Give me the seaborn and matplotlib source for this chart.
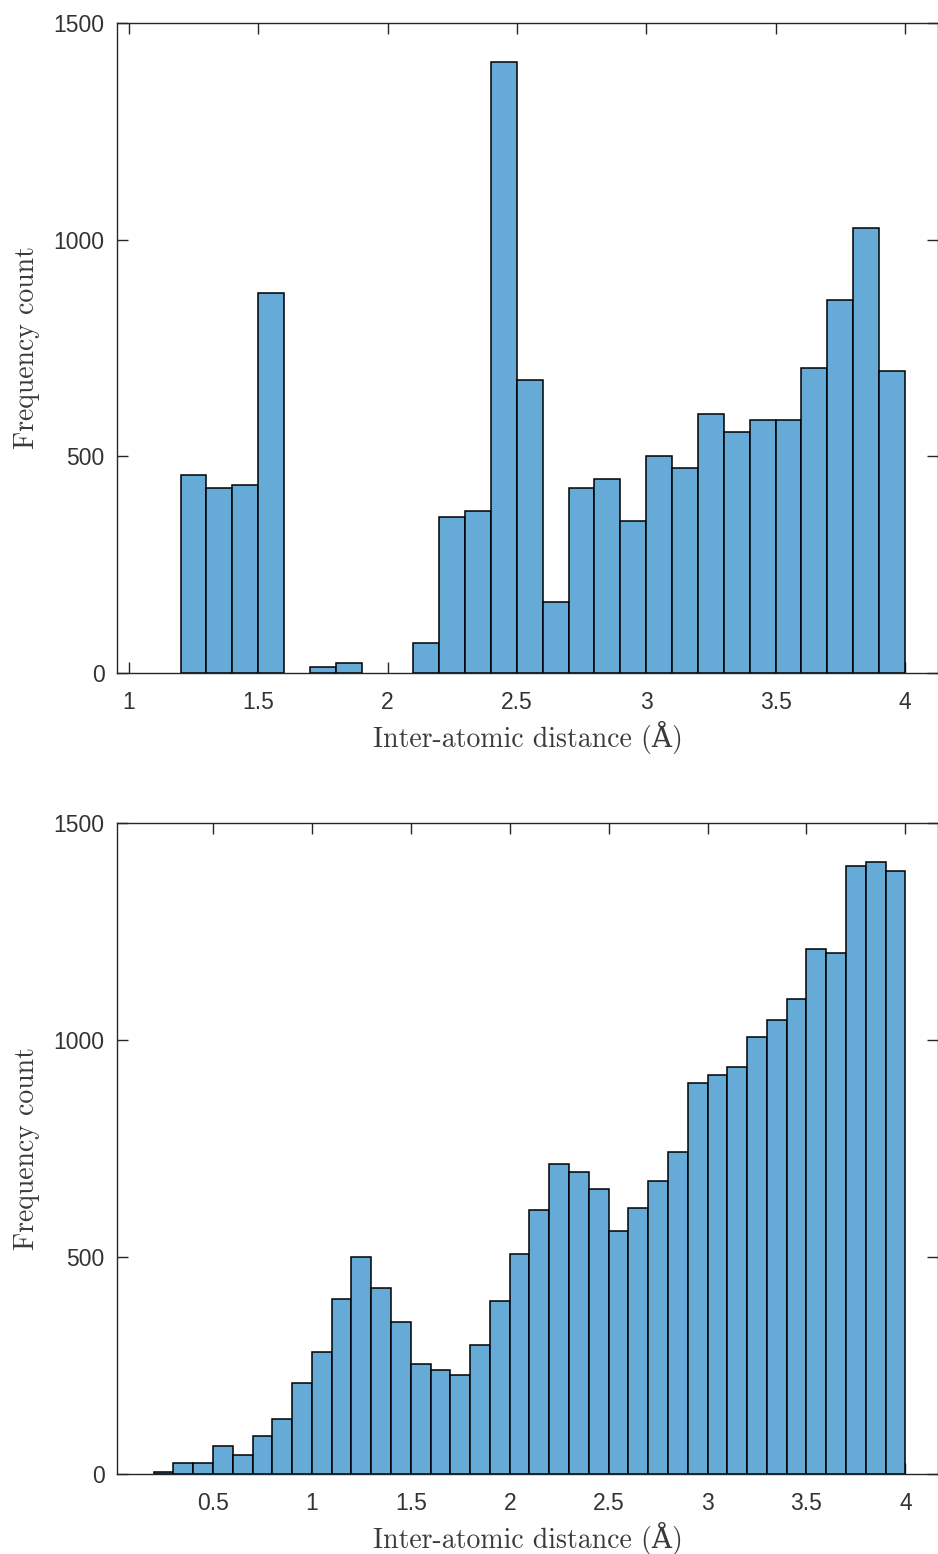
import numpy as np
import pandas as pd
import matplotlib
matplotlib.use('Agg')
import matplotlib.pyplot as plt
import seaborn as sns

# Histogram counts, 0.1 A bins
bin_width = 0.1

# top panel: bins 1.2 .. 4.0
top_start = 1.2
top_counts = [456, 426, 434, 877, 0, 14, 22, 0, 0, 70,
              360, 373, 1410, 676, 163, 426, 448, 351, 500, 474,
              598, 557, 584, 584, 704, 860, 1027, 697]

# bottom panel: bins 0.2 .. 4.0
bot_start = 0.2
bot_counts = [5, 25, 25, 65, 43, 87, 127, 210, 280, 403,
              500, 429, 351, 254, 240, 228, 297, 398, 508, 609,
              714, 697, 657, 560, 613, 675, 741, 902, 920, 937,
              1008, 1047, 1095, 1209, 1200, 1402, 1411, 1389]

top_xticks = [1, 1.5, 2, 2.5, 3, 3.5, 4]
top_xticklabels = ['1', '1.5', '2', '2.5', '3', '3.5', '4']
bot_xticks = [0.5, 1, 1.5, 2, 2.5, 3, 3.5, 4]
bot_xticklabels = ['0.5', '1', '1.5', '2', '2.5', '3', '3.5', '4']
yticks = [0, 500, 1000, 1500]

bar_color = '#66AAD7'
axis_color = '#262626'

sns.set_style('ticks')
plt.rcParams['font.family'] = ['Liberation Sans', 'DejaVu Sans']

fig = plt.figure(figsize=(9.38, 15.54), dpi=100)
W, H = 938, 1554
ax_top = fig.add_axes([117 / W, (H - 673) / H, (938 - 117) / W, (673 - 23) / H])
ax_bot = fig.add_axes([117 / W, (H - 1474) / H, (938 - 117) / W, (1474 - 823) / H])

label_font = dict(family=['cmr10', 'DejaVu Serif'], size=20, color='#3a3a3a')


def draw_hist(ax, start, counts, xlim, xticks, xticklabels):
    n = len(counts)
    df = pd.DataFrame({
        'dist': start + bin_width * (np.arange(n) + 0.5),
        'count': counts,
    })
    sns.histplot(data=df, x='dist', weights='count',
                 binwidth=bin_width, binrange=(start, start + bin_width * n),
                 ax=ax, color=bar_color, alpha=1,
                 edgecolor='black', linewidth=1.1)
    # empty bins: no outline (matlab draws nothing there)
    for p in ax.patches:
        if p.get_height() == 0:
            p.set_visible(False)
    ax.set_xlim(*xlim)
    ax.set_ylim(0, 1500)
    ax.set_xticks(xticks)
    ax.set_xticklabels(xticklabels)
    ax.set_yticks(yticks)
    ax.tick_params(direction='in', length=8, width=1.0, color=axis_color,
                   labelsize=16.5, labelcolor='#333333',
                   top=True, right=True)
    ax.tick_params(axis='x', pad=13)
    ax.tick_params(axis='y', pad=9)
    for s in ax.spines.values():
        s.set_visible(True)
        s.set_color(axis_color)
        s.set_linewidth(1.0)
    ax.set_xlabel('Inter-atomic distance (Å)', fontdict=label_font, labelpad=5)
    ax.set_ylabel('Frequency count', fontdict=label_font, labelpad=10)


draw_hist(ax_top, top_start, top_counts, (0.954, 4.128), top_xticks, top_xticklabels)
draw_hist(ax_bot, bot_start, bot_counts, (0.015, 4.165), bot_xticks, bot_xticklabels)

fig.savefig('out.png', dpi=100)
